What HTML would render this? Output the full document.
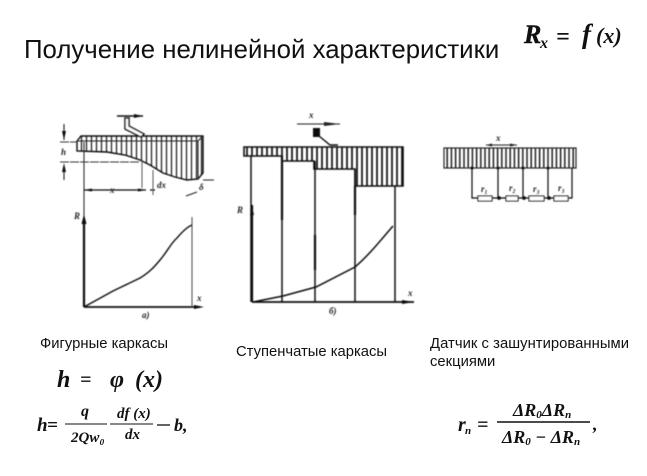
<!DOCTYPE html>
<html><head><meta charset="utf-8"><style>
html,body{margin:0;padding:0;background:#fff}
svg{display:block}
text{font-family:"Liberation Sans",sans-serif;fill:#111}
.f{font-family:"Liberation Serif",serif;font-style:italic;font-weight:bold}
.s{font-family:"Liberation Serif",serif;font-style:italic;font-weight:bold;font-size:9px;fill:#222}
</style></head><body>
<svg width="647" height="476" viewBox="0 0 647 476" xmlns="http://www.w3.org/2000/svg">
<defs>
<pattern id="h1" width="10" height="10" patternUnits="userSpaceOnUse">
<path d="M1.500 0V10M6.500 0V10" stroke="#222" stroke-width="1.300"/>
</pattern>
<pattern id="h2" width="5" height="10" patternUnits="userSpaceOnUse">
<path d="M2 0V10" stroke="#111" stroke-width="1.700"/>
</pattern>
<pattern id="h3" width="4.200" height="10" patternUnits="userSpaceOnUse">
<path d="M2 0V10" stroke="#111" stroke-width="1.400"/>
</pattern>
<filter id="b" x="-5%" y="-5%" width="110%" height="110%"><feGaussianBlur stdDeviation="0.400"/></filter>
</defs>

<text x="24" y="58" font-size="25.800">Получение нелинейной характеристики</text>
<text class="f" x="524" y="43" font-size="26" font-weight="normal" stroke="#111" stroke-width="0.400">R</text>
<text class="f" x="540" y="48" font-size="16">x</text>
<text class="f" x="556" y="44" font-size="24" font-style="normal">=</text>
<text class="f" x="582" y="43" font-size="27">f</text>
<text class="f" x="596" y="43" font-size="22">(x)</text>

<g filter="url(#b)">
<!-- Diagram a -->
<path d="M77 141L81 136H203V173L198 179L187 180L175 177L163 173L150 165L140 160L125 155L107 152L77 151Z" fill="url(#h1)" stroke="#111" stroke-width="1.400"/>
<path d="M77 141H198L203 136M198 141V179" fill="none" stroke="#222" stroke-width="1.100"/>
<path d="M125 128V118H129V126L144 134L141 137L125 129Z" fill="#fff" stroke="#111" stroke-width="1.500"/>
<path d="M117 116H143" stroke="#111" stroke-width="1.400"/>
<path d="M134 114L143 116L134 118Z" fill="#111"/>
<path d="M60 142H77M60 162H140" stroke="#333" stroke-width="1" stroke-dasharray="9 1"/>
<path d="M64 124V140M64 166V180" stroke="#222" stroke-width="1.100"/>
<path d="M62 131L64 140L66 131ZM62 172L64 163L66 172Z" fill="#111"/>
<text class="s" x="61" y="155">h</text>
<path d="M84 142V220" stroke="#222" stroke-width="1"/>
<path d="M84 190H146M150 190H155" stroke="#111" stroke-width="1.300"/>
<path d="M84 190L92 188.500V191.500ZM146 190L138 188.500V191.500Z" fill="#111"/>
<text class="s" x="110" y="193">x</text>
<path d="M142 160V188M153 170V195" stroke="#444" stroke-width="0.900"/>
<text class="s" x="157" y="188">dx</text>
<path d="M186 196L197 192M203 180L214 180" stroke="#222" stroke-width="1.100"/>
<text class="s" x="199" y="190">δ</text>
<path d="M84 220V307" stroke="#111" stroke-width="2.200"/>
<path d="M81.500 224L84 214L86.500 224Z" fill="#111"/>
<text class="s" x="74" y="219">R</text>
<path d="M84 307H200" stroke="#111" stroke-width="1.700"/>
<path d="M194 305L204 307L194 309Z" fill="#111"/>
<text class="s" x="197" y="301">x</text>
<path d="M192 217V307" stroke="#444" stroke-width="1"/>
<path d="M84 307L113 291L140 278C150 272 155 266 160 260C167 252 171 243 177 238C182 232 187 227 192 225" fill="none" stroke="#111" stroke-width="1.400"/>
<text class="s" x="142" y="318">a)</text>

<!-- Diagram b -->
<path d="M244 147H403V186H355V169H314V161H282V156H244Z" fill="url(#h2)" stroke="#111" stroke-width="1.600"/>
<path d="M297 124H340" stroke="#222" stroke-width="1.100"/>
<path d="M324 122L340 124L324 126Z" fill="#222"/>
<text class="s" x="309" y="118">x</text>
<rect x="313" y="128" width="7" height="9" fill="#111"/>
<path d="M319 136L330 145H338" fill="none" stroke="#111" stroke-width="1.400"/>
<path d="M251 156V302M282 156V302M315 161V302M355 169V302M395 186V302" fill="none" stroke="#111" stroke-width="1.500"/>
<path d="M282 156V220M315 235V270M355 186V215" stroke="#111" stroke-width="2.200"/>
<path d="M252 205V302" stroke="#111" stroke-width="2.200"/>
<path d="M250 215L252 207L254 215Z" fill="#111"/>
<text class="s" x="237" y="213">R</text>
<path d="M252 302H414" stroke="#111" stroke-width="1.700"/>
<path d="M402 300L414 302L402 304Z" fill="#111"/>
<text class="s" x="408" y="296">x</text>
<path d="M253 302L283 296L316 287L355 267C368 256 381 240 393 226" fill="none" stroke="#111" stroke-width="1.500"/>
<text class="s" x="329" y="314">б)</text>

<!-- Diagram c -->
<rect x="444" y="148" width="132" height="20" fill="url(#h3)" stroke="#222" stroke-width="1.200"/>
<path d="M486 145H517" stroke="#222" stroke-width="1.100"/>
<path d="M486 145L492 143.500V146.500ZM517 145L510 143.500V146.500Z" fill="#222"/>
<text class="s" x="496" y="141">x</text>
<path d="M472 168V198H572V168M498 168V198M523 168V198M548 168V198" fill="none" stroke="#111" stroke-width="1.200"/>
<circle cx="472" cy="168" r="1.500" fill="#111"/><circle cx="498" cy="168" r="1.500" fill="#111"/><circle cx="523" cy="168" r="1.500" fill="#111"/><circle cx="548" cy="168" r="1.500" fill="#111"/>
<circle cx="499" cy="198" r="1.900" fill="#111"/><circle cx="524" cy="198" r="1.900" fill="#111"/><circle cx="549" cy="198" r="1.900" fill="#111"/>
<g fill="#fff" stroke="#111" stroke-width="1.100">
<rect x="478" y="196" width="14" height="5"/><rect x="506" y="196" width="12" height="5"/><rect x="529" y="196" width="15" height="5"/><rect x="554" y="196" width="14" height="5"/>
</g>
<text class="s" x="481" y="192">r₁</text><text class="s" x="509" y="191">r₂</text><text class="s" x="533" y="192">r₃</text><text class="s" x="558" y="191">r₃</text>
</g>

<text x="40" y="348" font-size="14.800" textLength="128">Фигурные каркасы</text>
<text x="236" y="356" font-size="14.800" textLength="151">Ступенчатые каркасы</text>
<text x="430" y="348" font-size="14.800" textLength="199">Датчик с зашунтированными</text>
<text x="430" y="366" font-size="14.800">секциями</text>

<text class="f" x="57" y="387" font-size="24">h</text>
<text class="f" x="80" y="386" font-size="20" font-style="normal">=</text>
<text class="f" x="110" y="387" font-size="24" font-style="normal">φ</text>
<text class="f" x="135" y="387" font-size="24">(x)</text>

<text class="f" x="37" y="431" font-size="19" font-weight="normal">h</text>
<text class="f" x="47" y="431" font-size="19" font-style="normal">=</text>
<path d="M65 424H107M110 424H153" stroke="#111" stroke-width="1.100"/>
<text class="f" x="81" y="416" font-size="16">q</text>
<text class="f" x="71" y="442" font-size="15" font-weight="normal">2Qw₀</text>
<text class="f" x="117" y="418" font-size="15" font-weight="normal">df (x)</text>
<text class="f" x="125" y="439" font-size="15" font-weight="normal">dx</text>
<path d="M157 425H170" stroke="#111" stroke-width="1.300"/>
<text class="f" x="174" y="431" font-size="18">b,</text>

<text class="f" x="458" y="431" font-size="20">r</text>
<text class="f" x="465" y="434" font-size="11">n</text>
<text class="f" x="477" y="431" font-size="20" font-style="normal">=</text>
<path d="M497 422H590" stroke="#111" stroke-width="1.400"/>
<text class="f" x="513" y="416" font-size="18" font-weight="normal">ΔR<tspan font-size="11" dy="2">0</tspan><tspan dy="-2">ΔR</tspan><tspan font-size="11" dy="2">n</tspan></text>
<text class="f" x="502" y="443" font-size="18" font-weight="normal">ΔR<tspan font-size="11" dy="2">0</tspan><tspan dy="-2"> − ΔR</tspan><tspan font-size="11" dy="2">n</tspan></text>
<text class="f" x="593" y="430" font-size="18">,</text>
</svg>
</body></html>
